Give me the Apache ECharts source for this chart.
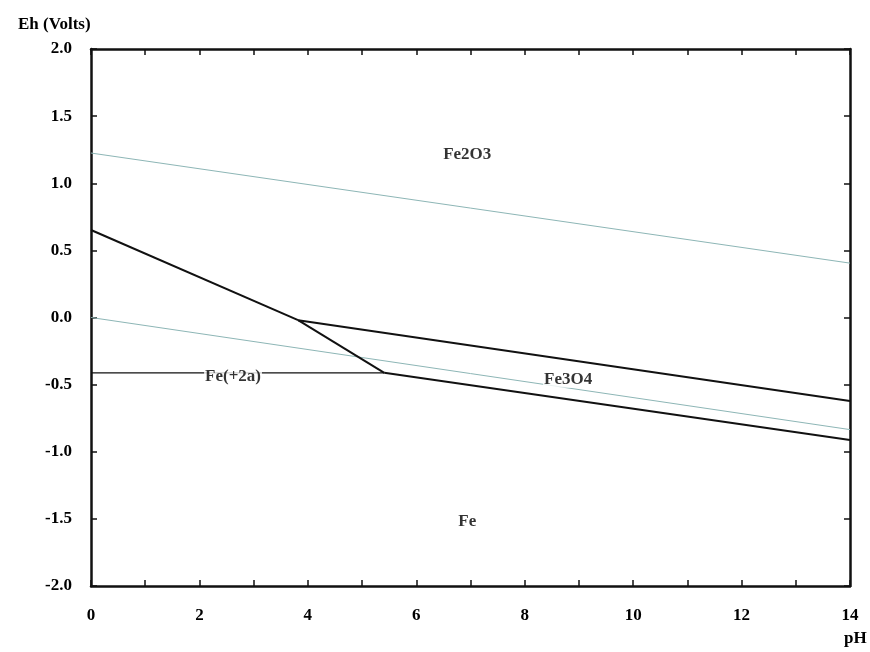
<!DOCTYPE html>
<html>
<head>
<meta charset="utf-8">
<style>
  html, body { margin: 0; padding: 0; background: #fff; }
  #chart { width: 870px; height: 652px; }
</style>
<script src="https://cdn.jsdelivr.net/npm/echarts@6/dist/echarts.min.js"></script>
</head>
<body>
<div id="chart"></div>
<script>
// Eh-pH (Pourbaix) diagram for iron in water

// Stability limits of water: [pH, Eh]
const waterUpper = [[0, 1.225], [14, 0.405]];
const waterLower = [[0, 0.0], [14, -0.835]];

// Phase boundaries: [pH, Eh]
const feIonFe2O3 = [[0, 0.652], [3.82, -0.02]];
const feIonFe3O4 = [[3.82, -0.02], [5.41, -0.412]];
const fe2O3Fe3O4 = [[3.82, -0.02], [14, -0.622]];
const feFeIon = [[0, -0.412], [5.41, -0.412]];
const fe3O4Fe = [[5.41, -0.412], [14, -0.912]];

// Field labels: [pH, Eh, name]
const fieldLabels = [
  [6.94, 1.21, 'Fe2O3'],
  [2.62, -0.44, 'Fe(+2a)'],
  [8.8, -0.46, 'Fe3O4'],
  [6.94, -1.52, 'Fe']
];

const xTicks = { min: 0, max: 14, step: 1 };
const yTicks = { min: -2, max: 2, step: 0.5 };

const font = '"Liberation Serif", "Times New Roman", serif';
const labelStyle = { fontFamily: font, fontWeight: 'bold', fontSize: 17, color: '#000' };

const chart = echarts.init(document.getElementById('chart'));

function boundary(data, width) {
  return {
    type: 'line', data: data, symbol: 'none', silent: true,
    lineStyle: { color: '#111', width: width }, z: 3
  };
}
function waterLine(data) {
  return {
    type: 'line', data: data, symbol: 'none', silent: true,
    lineStyle: { color: '#8db6b6', width: 1 }, z: 2
  };
}

const frameLine = { show: true, onZero: false, lineStyle: { color: '#111', width: 2.5 } };
const innerTick = { show: true, inside: true, length: 6, lineStyle: { color: '#111', width: 1.5 } };

chart.setOption({
  animation: false,
  backgroundColor: '#fff',
  title: [
    { text: 'Eh (Volts)', left: 13, top: 11, textStyle: labelStyle },
    { text: 'pH', left: 839, top: 625, textStyle: labelStyle }
  ],
  grid: { left: 91, right: 20, top: 49, bottom: 66 },
  xAxis: [
    {
      type: 'value', min: xTicks.min, max: xTicks.max, interval: xTicks.step,
      position: 'bottom',
      axisLine: frameLine, axisTick: innerTick, splitLine: { show: false },
      axisLabel: {
        margin: 21, ...labelStyle,
        formatter: v => (Math.round(v) % 2 === 0 ? String(Math.round(v)) : '')
      }
    },
    {
      type: 'value', min: xTicks.min, max: xTicks.max, interval: xTicks.step,
      position: 'top',
      axisLine: frameLine, axisTick: innerTick, splitLine: { show: false },
      axisLabel: { show: false }
    }
  ],
  yAxis: [
    {
      type: 'value', min: yTicks.min, max: yTicks.max, interval: yTicks.step,
      position: 'left',
      axisLine: frameLine, axisTick: innerTick, splitLine: { show: false },
      axisLabel: { margin: 19, ...labelStyle, formatter: v => v.toFixed(1) }
    },
    {
      type: 'value', min: yTicks.min, max: yTicks.max, interval: yTicks.step,
      position: 'right',
      axisLine: frameLine, axisTick: innerTick, splitLine: { show: false },
      axisLabel: { show: false }
    }
  ],
  series: [
    waterLine(waterUpper),
    waterLine(waterLower),
    boundary(feIonFe2O3, 2),
    boundary(feIonFe3O4, 2),
    boundary(fe2O3Fe3O4, 2),
    boundary(feFeIon, 1.3),
    boundary(fe3O4Fe, 2),
    {
      type: 'scatter', silent: true, z: 5,
      symbolSize: 0,
      data: fieldLabels.map(d => ({ value: [d[0], d[1]], name: d[2] })),
      label: {
        show: true, position: 'inside', formatter: p => p.name,
        backgroundColor: '#fff', padding: [0, 1],
        ...labelStyle
      }
    }
  ]
});
</script>
</body>
</html>
